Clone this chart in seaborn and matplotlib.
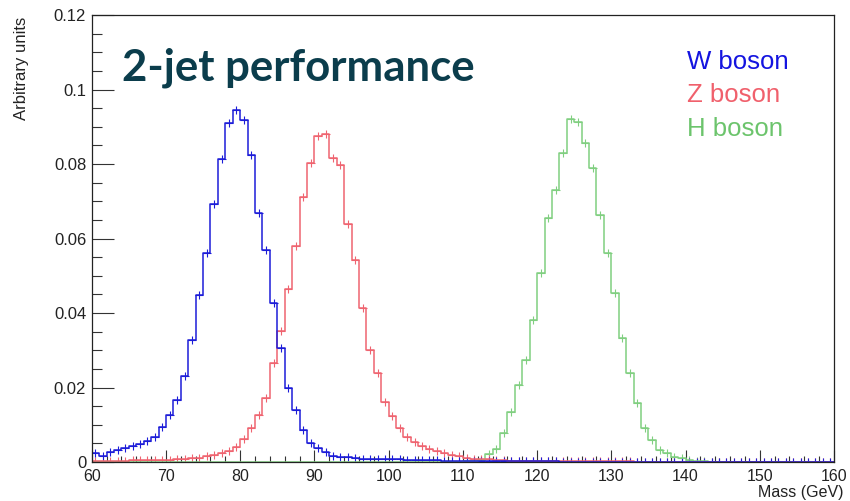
import numpy as np
import pandas as pd
import matplotlib
matplotlib.use("Agg")
import matplotlib.pyplot as plt
from matplotlib.ticker import MultipleLocator, FixedLocator, FixedFormatter
import seaborn as sns

# ---------------- data ----------------
mass_edges = list(range(60, 161))          # 1 GeV bins, 60..160

w_boson = [
    0.0023, 0.0016, 0.0028, 0.0032, 0.0037, 0.0043, 0.0048, 0.0056, 0.0068, 0.0093,   # 60-69
    0.0126, 0.0167, 0.0232, 0.0328, 0.0448, 0.0562, 0.0694, 0.0814, 0.0911, 0.0946,   # 70-79
    0.0919, 0.0824, 0.0668, 0.0569, 0.0426, 0.0305, 0.0200, 0.0140, 0.0085, 0.0050,   # 80-89
    0.0037, 0.0027, 0.0016, 0.0013, 0.0013, 0.0010, 0.0009, 0.0009, 0.0008, 0.0008,   # 90-99
    0.0007, 0.0007, 0.0006, 0.0006, 0.0005, 0.0005, 0.0005, 0.0004, 0.0004, 0.0004,   # 100-109
    0.0003, 0.0003, 0.0003, 0.0003, 0.0003, 0.0002, 0.0002, 0.0002, 0.0002, 0.0002,   # 110-119
    0.0002, 0.0002, 0.0002, 0.0001, 0.0001, 0.0001, 0.0001, 0.0001, 0.0001, 0.0001,   # 120-129
    0.0001, 0.0001, 0.0001, 0.0001, 0.0001, 0.0001, 0.0001, 0.0001, 0.0001, 0.0001,   # 130-139
    0.0001, 0.0001, 0.0001, 0.0001, 0.0001, 0.0001, 0.0001, 0.0001, 0.0001, 0.0001,   # 140-149
    0.0001, 0.0001, 0.0001, 0.0001, 0.0001, 0.0001, 0.0001, 0.0001, 0.0001, 0.0001,   # 150-159
]

z_boson = [
    0.0003, 0.0003, 0.0003, 0.0003, 0.0003, 0.0005, 0.0005, 0.0005, 0.0005, 0.0005,   # 60-69
    0.0006, 0.0007, 0.0008, 0.0010, 0.0011, 0.0015, 0.0019, 0.0024, 0.0030, 0.0041,   # 70-79
    0.0061, 0.0090, 0.0126, 0.0171, 0.0265, 0.0352, 0.0465, 0.0580, 0.0712, 0.0804,   # 80-89
    0.0875, 0.0880, 0.0815, 0.0798, 0.0640, 0.0542, 0.0413, 0.0301, 0.0238, 0.0162,   # 90-99
    0.0124, 0.0092, 0.0068, 0.0054, 0.0043, 0.0035, 0.0029, 0.0023, 0.0018, 0.0015,   # 100-109
    0.0011, 0.0009, 0.0007, 0.0007, 0.0005, 0.0005, 0.0004, 0.0003, 0.0003, 0.0003,   # 110-119
    0.0003, 0.0003, 0.0003, 0.0003, 0.0003, 0.0002, 0.0002, 0.0002, 0.0002, 0.0002,   # 120-129
    0.0002, 0.0002, 0.0002, 0.0001, 0.0001, 0.0001, 0.0001, 0.0001, 0.0001, 0.0001,   # 130-139
    0.0001, 0.0001, 0.0001, 0.0001, 0.0001, 0.0001, 0.0001, 0.0001, 0.0001, 0.0001,   # 140-149
    0.0001, 0.0001, 0.0001, 0.0001, 0.0001, 0.0001, 0.0001, 0.0001, 0.0001, 0.0001,   # 150-159
]

h_boson = [
    0.0, 0.0, 0.0, 0.0, 0.0, 0.0, 0.0, 0.0, 0.0, 0.0,                                 # 60-69
    0.0, 0.0, 0.0, 0.0, 0.0, 0.0, 0.0, 0.0, 0.0, 0.0,                                 # 70-79
    0.0, 0.0, 0.0, 0.0, 0.0, 0.0, 0.0, 0.0, 0.0, 0.0,                                 # 80-89
    0.0, 0.0, 0.0, 0.0, 0.0, 0.0, 0.0, 0.0, 0.0, 0.0,                                 # 90-99
    0.0, 0.0, 0.0, 0.0, 0.0, 0.0, 0.0, 0.0, 0.0, 0.0,                                 # 100-109
    0.0002, 0.0003, 0.0006, 0.0022, 0.0035, 0.0077, 0.0135, 0.0207, 0.0274, 0.0381,   # 110-119
    0.0507, 0.0655, 0.0730, 0.0829, 0.0920, 0.0914, 0.0856, 0.0788, 0.0663, 0.0560,   # 120-129
    0.0453, 0.0332, 0.0238, 0.0159, 0.0090, 0.0060, 0.0032, 0.0023, 0.0014, 0.0010,   # 130-139
    0.0005, 0.0004, 0.0002, 0.0001, 0.0001, 0.0, 0.0, 0.0, 0.0, 0.0,                  # 140-149
    0.0, 0.0, 0.0, 0.0, 0.0, 0.0, 0.0, 0.0, 0.0, 0.0,                                 # 150-159
]

series_names = ["W boson", "Z boson", "H boson"]
line_colors = ["#1c1cd8", "#ef6470", "#80cf80"]
label_colors = ["#1414e0", "#f0606c", "#6cc46c"]

x_ticks = [60, 70, 80, 90, 100, 110, 120, 130, 140, 150, 160]
y_ticks = [0.0, 0.02, 0.04, 0.06, 0.08, 0.10, 0.12]
y_tick_labels = ["0", "0.02", "0.04", "0.06", "0.08", "0.1", "0.12"]

title_text = "2-jet performance"
x_label = "Mass (GeV)"
y_label = "Arbitrary units"

# ---------------- build table ----------------
centers = [e + 0.5 for e in mass_edges[:-1]]
frames = []
for name, vals in zip(series_names, [w_boson, z_boson, h_boson]):
    frames.append(pd.DataFrame({"mass": centers, "value": vals, "particle": name}))
df = pd.concat(frames, ignore_index=True)
palette = dict(zip(series_names, line_colors))

# ---------------- style ----------------
sns.set_theme(style="white")
plt.rcParams["font.family"] = ["Liberation Sans", "DejaVu Sans"]

fig = plt.figure(figsize=(8.5, 5.01), dpi=100)
ax = fig.add_axes([0.1079, 0.0778, 0.8733, 0.8922])

# step histograms (ordered so W is on top like the reference)
for name in ["H boson", "Z boson", "W boson"]:
    sub = df[df["particle"] == name]
    sns.histplot(data=sub, x="mass", weights="value", bins=mass_edges,
                 element="step", fill=False, color=palette[name],
                 linewidth=1.1, ax=ax)
    nz = sub[sub["value"] > 0]
    sns.scatterplot(data=nz, x="mass", y="value", color=palette[name],
                    marker="+", s=28, linewidth=0.8, ax=ax, legend=False)

ax.set_xlim(60, 160)
ax.set_ylim(0, 0.12)
ax.set_xlabel("")
ax.set_ylabel("")

ax.xaxis.set_major_locator(FixedLocator(x_ticks))
ax.xaxis.set_minor_locator(MultipleLocator(2))
ax.yaxis.set_major_locator(FixedLocator(y_ticks))
ax.yaxis.set_major_formatter(FixedFormatter(y_tick_labels))
ax.yaxis.set_minor_locator(MultipleLocator(0.005))

ax.tick_params(axis="both", which="both", direction="in", colors="#333333",
               width=0.8, labelcolor="#222222", bottom=True, left=True,
               top=False, right=False)
ax.tick_params(axis="y", which="major", length=15.5, pad=4, labelsize=12)
ax.tick_params(axis="y", which="minor", length=7.5)
ax.tick_params(axis="x", which="major", length=8.5, pad=5, labelsize=11.5)
ax.tick_params(axis="x", which="minor", length=4.5)

for sp in ax.spines.values():
    sp.set_visible(True)
    sp.set_color("#222222")
    sp.set_linewidth(0.9)

# axis titles (ROOT style placement)
fig.text(843 / 850, 1 - 493 / 501, x_label, ha="right", va="center",
         fontsize=11.5, color="#222222")
fig.text(22 / 850, 1 - 17 / 501, y_label, ha="center", va="top",
         rotation=90, fontsize=12, color="#222222")

# headline
fig.text(122 / 850, 1 - 68 / 501, title_text, ha="left", va="center",
         fontsize=31.5, fontweight="bold", color="#0b3d4c",
         family=["Lato", "DejaVu Sans"])

# legend-like labels
for i, (name, col) in enumerate(zip(series_names, label_colors)):
    fig.text(687 / 850, 1 - (62 + 33.5 * i) / 501, name, ha="left",
             va="center", fontsize=18.5, color=col)

fig.savefig("out.png", dpi=100)
